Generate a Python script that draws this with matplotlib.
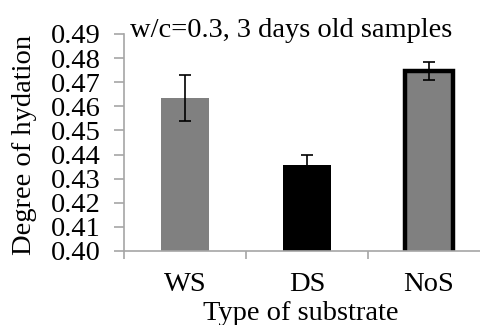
import matplotlib
matplotlib.use("Agg")
import matplotlib.pyplot as plt

# data
substrates = ["WS", "DS", "NoS"]
hydration = [0.4635, 0.4357, 0.4745]
err = [0.0097, 0.0040, 0.0037]
face_colors = ["#808080", "#000000", "#808080"]
edge_widths = [0, 0, 3.2]

plt.rcParams["font.family"] = ["Liberation Serif", "DejaVu Serif"]
plt.rcParams["font.size"] = 20.5

fig = plt.figure(figsize=(4.8, 3.25), dpi=100)
# axes runs past the right edge of the image like in the reference
ax = fig.add_axes([124 / 480, 1 - 251 / 325, 366 / 480, 217 / 325])

x = range(len(substrates))
ax.bar(x, hydration, width=0.39, color=face_colors, edgecolor="black",
       linewidth=edge_widths, zorder=2)
ax.errorbar(x, hydration, yerr=err, fmt="none", ecolor="black",
            elinewidth=1.2, capsize=4.5, capthick=1.2, zorder=3)

ax.set_xlim(-0.5, 2.5)
ax.set_ylim(0.40, 0.49)
ax.set_yticks([0.40 + 0.01 * i for i in range(10)])
ax.set_yticklabels([f"{0.40 + 0.01 * i:.2f}" for i in range(10)])
ax.set_xticks(list(x))
ax.set_xticklabels(substrates)
ax.set_xticks([-0.5, 0.5, 1.5, 2.5], minor=True)

grey = "#a6a6a6"
for s in ["top", "right"]:
    ax.spines[s].set_visible(False)
for s in ["left", "bottom"]:
    ax.spines[s].set_color(grey)
    ax.spines[s].set_linewidth(1.2)

ax.tick_params(axis="y", length=7, width=1.2, color=grey, pad=10)
ax.tick_params(axis="x", which="major", length=0, pad=15)
ax.tick_params(axis="x", which="minor", length=6, width=1.2, color=grey)

fig.text(25 / 480, 1 - 145 / 325, "Degree of hydation", rotation=90,
         ha="center", va="center")
fig.text(301 / 480, 1 - 320 / 325, "Type of substrate", ha="center", va="baseline")
fig.text(130 / 480, 1 - 37 / 325, "w/c=0.3, 3 days old samples", ha="left", va="baseline")

fig.savefig("out.png", dpi=100)
